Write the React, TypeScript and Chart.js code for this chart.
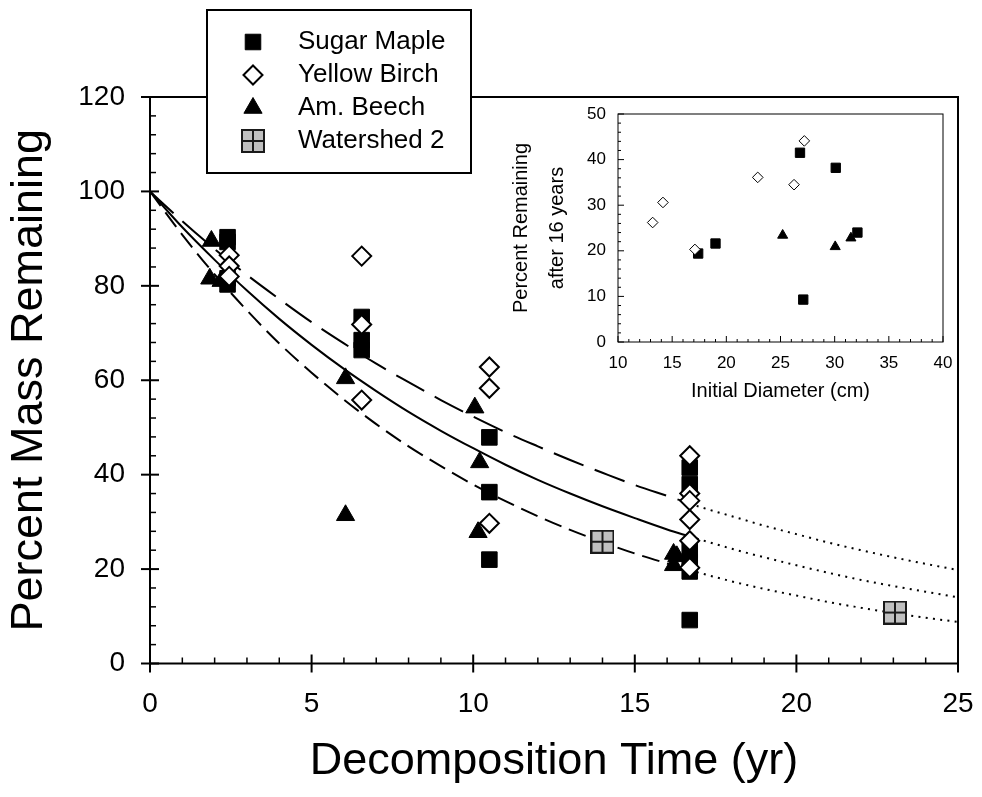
import React, { useEffect, useRef } from 'react';
import { Chart, registerables } from 'chart.js';
import { drawPoint } from 'chart.js/helpers';

Chart.register(...registerables);

const FONT = "'Liberation Sans', Arial, Helvetica, sans-serif";

// ---------- Main chart data ----------
const mapleT = [2.4, 2.4, 2.4, 2.4, 6.55, 6.55, 6.55, 10.5, 10.5, 10.5, 16.7, 16.7, 16.7, 16.7, 16.7, 16.7];
const mapleY = [90.3, 89.3, 81.6, 80.3, 73.4, 68.5, 66.4, 47.9, 36.3, 22.0, 41.5, 38.0, 24.0, 21.5, 19.5, 9.2];

const birchT = [2.45, 2.45, 2.45, 6.55, 6.55, 6.55, 10.5, 10.5, 10.5, 16.7, 16.7, 16.7, 16.7, 16.7, 16.7];
const birchY = [86.5, 84.2, 82.0, 86.3, 71.8, 55.8, 62.8, 58.3, 29.7, 44.0, 36.0, 34.5, 30.5, 26.0, 20.3];

const beechT = [1.9, 1.85, 2.2, 6.05, 6.05, 10.05, 10.2, 10.15, 16.2, 16.3, 16.2];
const beechY = [89.5, 81.5, 81.0, 60.4, 31.4, 54.2, 42.6, 27.8, 23.2, 22.7, 20.8];

const watershedT = [14.0, 23.05];
const watershedY = [25.8, 10.8];

// fitted curve (solid) and bounds (dashed)
const fitT = [0, 1, 2, 3, 4, 5, 6, 7, 8, 9, 10, 11, 12, 13, 14, 15, 16, 16.7];
const fitMid = [100, 92.4, 85.5, 79.0, 73.0, 67.5, 62.4, 57.7, 53.3, 49.3, 45.6, 42.1, 38.9, 36.0, 33.3, 30.8, 28.4, 26.9];
const fitUpper = [100, 93.7, 87.8, 82.3, 77.2, 72.3, 67.8, 63.5, 59.6, 55.8, 52.3, 49.0, 46.0, 43.1, 40.4, 37.8, 35.5, 33.9];
const fitLower = [100, 90.8, 82.4, 74.8, 67.8, 61.6, 55.9, 50.7, 46.0, 41.8, 37.9, 34.4, 31.2, 28.3, 25.7, 23.3, 21.2, 19.8];

// extrapolation (dotted)
const extT = [16.7, 17, 18, 19, 20, 21, 22, 23, 24, 25];
const extMid = [26.9, 26.3, 24.3, 22.5, 20.8, 19.2, 17.7, 16.4, 15.2, 14.0];
const extUpper = [33.9, 33.2, 31.2, 29.2, 27.4, 25.6, 24.0, 22.5, 21.1, 19.8];
const extLower = [19.8, 19.2, 17.4, 15.8, 14.4, 13.0, 11.8, 10.7, 9.7, 8.8];

const mainXTicks = { min: 0, max: 25, step: 5, minor: 1 };
const mainYTicks = { min: 0, max: 120, step: 20, minor: 4 };

const legendLabels = ['Sugar Maple', 'Yellow Birch', 'Am. Beech', 'Watershed 2'];

// ---------- Inset data ----------
const insetMapleDia = [17.4, 19.0, 26.8, 27.1, 30.1, 32.1];
const insetMaplePct = [19.4, 21.6, 41.5, 9.3, 38.2, 24.0];
const insetBirchDia = [13.2, 14.15, 17.1, 22.9, 26.25, 27.2];
const insetBirchPct = [26.2, 30.6, 20.3, 36.1, 34.5, 44.1];
const insetBeechDia = [25.2, 30.05, 31.5];
const insetBeechPct = [23.4, 20.9, 22.8];

const insetXTicks = { min: 10, max: 40, step: 5, minor: 1 };
const insetYTicks = { min: 0, max: 50, step: 10, minor: 2 };

const zip = (xs: number[], ys: number[]) => xs.map((x, i) => ({ x, y: ys[i] }));

function makeWatershedIcon(size: number) {
  const c = document.createElement('canvas');
  c.width = size;
  c.height = size;
  const g = c.getContext('2d')!;
  g.fillStyle = '#c0c0c0';
  g.fillRect(0, 0, size, size);
  g.strokeStyle = '#1a1a1a';
  g.lineWidth = 2;
  g.strokeRect(1, 1, size - 2, size - 2);
  g.beginPath();
  g.moveTo(size / 2, 0);
  g.lineTo(size / 2, size);
  g.moveTo(0, size / 2);
  g.lineTo(size, size / 2);
  g.stroke();
  return c;
}

const framePlugin = {
  id: 'frame',
  afterDraw(chart: any, _args: any, o: any) {
    if (!o || !o.enabled) return;
    const { ctx, chartArea: ca, scales } = chart;
    const xs = scales.x;
    const ys = scales.y;
    ctx.save();
    ctx.strokeStyle = '#000';
    ctx.lineWidth = o.lw;
    ctx.strokeRect(ca.left, ca.top, ca.right - ca.left, ca.bottom - ca.top);
    const isMajor = (v: number, step: number) => Math.abs(v / step - Math.round(v / step)) < 1e-6;
    for (let i = 0; ; i++) {
      const v = o.xt.min + i * o.xt.minor;
      if (v > o.xt.max + 1e-9) break;
      const px = xs.getPixelForValue(v);
      ctx.beginPath();
      if (isMajor(v, o.xt.step)) {
        ctx.lineWidth = o.majW;
        ctx.moveTo(px, ca.bottom + o.majOut);
        ctx.lineTo(px, ca.bottom - o.majIn);
      } else {
        ctx.lineWidth = o.minW;
        ctx.moveTo(px, ca.bottom);
        ctx.lineTo(px, ca.bottom - o.minIn);
      }
      ctx.stroke();
    }
    for (let i = 0; ; i++) {
      const v = o.yt.min + i * o.yt.minor;
      if (v > o.yt.max + 1e-9) break;
      const py = ys.getPixelForValue(v);
      ctx.beginPath();
      if (isMajor(v, o.yt.step)) {
        ctx.lineWidth = o.majW;
        ctx.moveTo(ca.left - o.majOut, py);
        ctx.lineTo(ca.left + o.majIn, py);
      } else {
        ctx.lineWidth = o.minW;
        ctx.moveTo(ca.left, py);
        ctx.lineTo(ca.left + o.minIn, py);
      }
      ctx.stroke();
    }
    ctx.restore();

    // legend box
    const lg = o.legend;
    if (lg) {
      ctx.save();
      ctx.fillStyle = '#fff';
      ctx.fillRect(lg.x, lg.y, lg.w, lg.h);
      ctx.strokeStyle = '#000';
      ctx.lineWidth = 2;
      ctx.strokeRect(lg.x, lg.y, lg.w, lg.h);
      lg.labels.forEach((label: string, i: number) => {
        const ds = chart.data.datasets.find((d: any) => d.label === label);
        if (!ds) return;
        const cy = lg.rowY + i * lg.rowH;
        ctx.fillStyle = ds.backgroundColor;
        ctx.strokeStyle = ds.borderColor;
        ctx.lineWidth = ds.borderWidth;
        drawPoint(ctx, {
          pointStyle: ds.pointStyle,
          radius: ds.pointRadius,
          rotation: 0,
          borderWidth: ds.borderWidth,
        } as any, lg.symX, cy);
        ctx.fillStyle = '#000';
        ctx.font = `${lg.fontSize}px ${FONT}`;
        ctx.textAlign = 'left';
        ctx.textBaseline = 'middle';
        ctx.fillText(label, lg.textX, cy);
      });
      ctx.restore();
    }
  },
};

const fixX = (h: number) => (s: any) => {
  s.height = h;
  s.paddingLeft = 0;
  s.paddingRight = 0;
};
const fixY = (w: number) => (s: any) => {
  s.width = w;
  s.paddingTop = 0;
  s.paddingBottom = 0;
};

function MainChart() {
  const ref = useRef<HTMLCanvasElement>(null);
  useEffect(() => {
    const icon = makeWatershedIcon(24);
    const curve = (xs: number[], ys: number[], dash: number[]) => ({
      label: '',
      data: zip(xs, ys),
      showLine: true,
      borderColor: '#000',
      backgroundColor: '#000',
      borderWidth: 2,
      borderDash: dash,
      pointRadius: 0,
      cubicInterpolationMode: 'monotone',
      order: 10,
    });
    const chart = new Chart(ref.current!, {
      type: 'scatter',
      data: {
        datasets: [
          {
            label: 'Sugar Maple',
            data: zip(mapleT, mapleY),
            pointStyle: 'rect',
            pointRadius: 11,
            backgroundColor: '#000',
            borderColor: '#000',
            borderWidth: 1,
            order: 2,
          },
          {
            label: 'Yellow Birch',
            data: zip(birchT, birchY),
            pointStyle: 'rectRot',
            pointRadius: 9.5,
            backgroundColor: '#fff',
            borderColor: '#000',
            borderWidth: 2,
            order: 1,
          },
          {
            label: 'Am. Beech',
            data: zip(beechT, beechY),
            pointStyle: 'triangle',
            pointRadius: 10.5,
            backgroundColor: '#000',
            borderColor: '#000',
            borderWidth: 1,
            order: 3,
          },
          {
            label: 'Watershed 2',
            data: zip(watershedT, watershedY),
            pointStyle: icon,
            pointRadius: 12,
            backgroundColor: '#c0c0c0',
            borderColor: '#000',
            borderWidth: 0,
            order: 0,
          },
          curve(fitT, fitMid, []),
          curve(fitT, fitUpper, [32, 12]),
          curve(fitT, fitLower, [18, 8]),
          curve(extT, extMid, [2, 5.3]),
          curve(extT, extUpper, [2, 5.3]),
          curve(extT, extLower, [2, 5.3]),
        ] as any,
      },
      options: {
        animation: false,
        responsive: false,
        events: [],
        layout: { autoPadding: false, padding: { top: 97, right: 24, left: 0, bottom: 0 } },
        plugins: {
          legend: { display: false },
          tooltip: { enabled: false },
          frame: {
            enabled: true,
            lw: 2,
            majW: 2,
            minW: 1.5,
            majOut: 9,
            majIn: 9,
            minIn: 6,
            xt: mainXTicks,
            yt: mainYTicks,
            legend: {
              x: 207, y: 10, w: 264, h: 163,
              symX: 253, textX: 298, rowY: 42, rowH: 33, fontSize: 26,
              labels: legendLabels,
            },
          },
        } as any,
        scales: {
          x: {
            type: 'linear',
            min: mainXTicks.min,
            max: mainXTicks.max,
            ticks: { stepSize: mainXTicks.step, color: '#000', padding: 24, maxRotation: 0, font: { family: FONT, size: 28, lineHeight: 1.2 } },
            grid: { display: false, drawTicks: false },
            border: { display: false },
            title: { display: true, text: 'Decomposition Time (yr)', color: '#000', font: { family: FONT, size: 45, lineHeight: 1.2 }, padding: { top: 0, bottom: 8 } },
            afterFit: fixX(133.5),
          },
          y: {
            type: 'linear',
            min: mainYTicks.min,
            max: mainYTicks.max,
            ticks: { stepSize: mainYTicks.step, color: '#000', padding: 25, font: { family: FONT, size: 28, lineHeight: 1.2 } },
            grid: { display: false, drawTicks: false },
            border: { display: false },
            title: { display: true, text: 'Percent Mass Remaining', color: '#000', font: { family: FONT, size: 45, lineHeight: 1.2 }, padding: { top: 3, bottom: 0 } },
            afterFit: fixY(150),
          },
        } as any,
      },
      plugins: [framePlugin],
    });
    return () => chart.destroy();
  }, []);
  return <canvas ref={ref} width={982} height={797} style={{ position: 'absolute', left: 0, top: 0 }} />;
}

function InsetChart() {
  const ref = useRef<HTMLCanvasElement>(null);
  useEffect(() => {
    const chart = new Chart(ref.current!, {
      type: 'scatter',
      data: {
        datasets: [
          {
            label: 'Yellow Birch',
            data: zip(insetBirchDia, insetBirchPct),
            pointStyle: 'rectRot',
            pointRadius: 5.3,
            backgroundColor: '#fff',
            borderColor: '#000',
            borderWidth: 1,
            order: 1,
          },
          {
            label: 'Sugar Maple',
            data: zip(insetMapleDia, insetMaplePct),
            pointStyle: 'rect',
            pointRadius: 6.6,
            backgroundColor: '#000',
            borderColor: '#000',
            borderWidth: 1,
            order: 2,
          },
          {
            label: 'Am. Beech',
            data: zip(insetBeechDia, insetBeechPct),
            pointStyle: 'triangle',
            pointRadius: 5.8,
            backgroundColor: '#000',
            borderColor: '#000',
            borderWidth: 1,
            order: 3,
          },
        ] as any,
      },
      options: {
        animation: false,
        responsive: false,
        events: [],
        layout: { autoPadding: false, padding: { top: 14, right: 27, left: 0, bottom: 0 } },
        plugins: {
          legend: { display: false },
          tooltip: { enabled: false },
          frame: {
            enabled: true,
            lw: 1,
            majW: 1,
            minW: 1,
            majOut: 0,
            majIn: 6,
            minIn: 3,
            xt: insetXTicks,
            yt: insetYTicks,
          },
        } as any,
        scales: {
          x: {
            type: 'linear',
            min: insetXTicks.min,
            max: insetXTicks.max,
            ticks: { stepSize: insetXTicks.step, color: '#000', padding: 11, maxRotation: 0, font: { family: FONT, size: 17, lineHeight: 1.2 } },
            grid: { display: false, drawTicks: false },
            border: { display: false },
            title: { display: true, text: 'Initial Diameter (cm)', color: '#000', font: { family: FONT, size: 20, lineHeight: 1.2 }, padding: { top: 0, bottom: 17 } },
            afterFit: fixX(78),
          },
          y: {
            type: 'linear',
            min: insetYTicks.min,
            max: insetYTicks.max,
            ticks: { stepSize: insetYTicks.step, color: '#000', padding: 12, font: { family: FONT, size: 17, lineHeight: 1.2 } },
            grid: { display: false, drawTicks: false },
            border: { display: false },
            title: { display: true, text: ['Percent Remaining', 'after 16 years'], color: '#000', font: { family: FONT, size: 20, lineHeight: 1.8 }, padding: { top: 13, bottom: 0 } },
            afterFit: fixY(128),
          },
        } as any,
      },
      plugins: [framePlugin],
    });
    return () => chart.destroy();
  }, []);
  return <canvas ref={ref} width={480} height={320} style={{ position: 'absolute', left: 490, top: 100 }} />;
}

export default function App() {
  return (
    <div style={{ position: 'absolute', left: 0, top: 0, width: 982, height: 797, background: '#fff', overflow: 'hidden' }}>
      <MainChart />
      <InsetChart />
    </div>
  );
}
